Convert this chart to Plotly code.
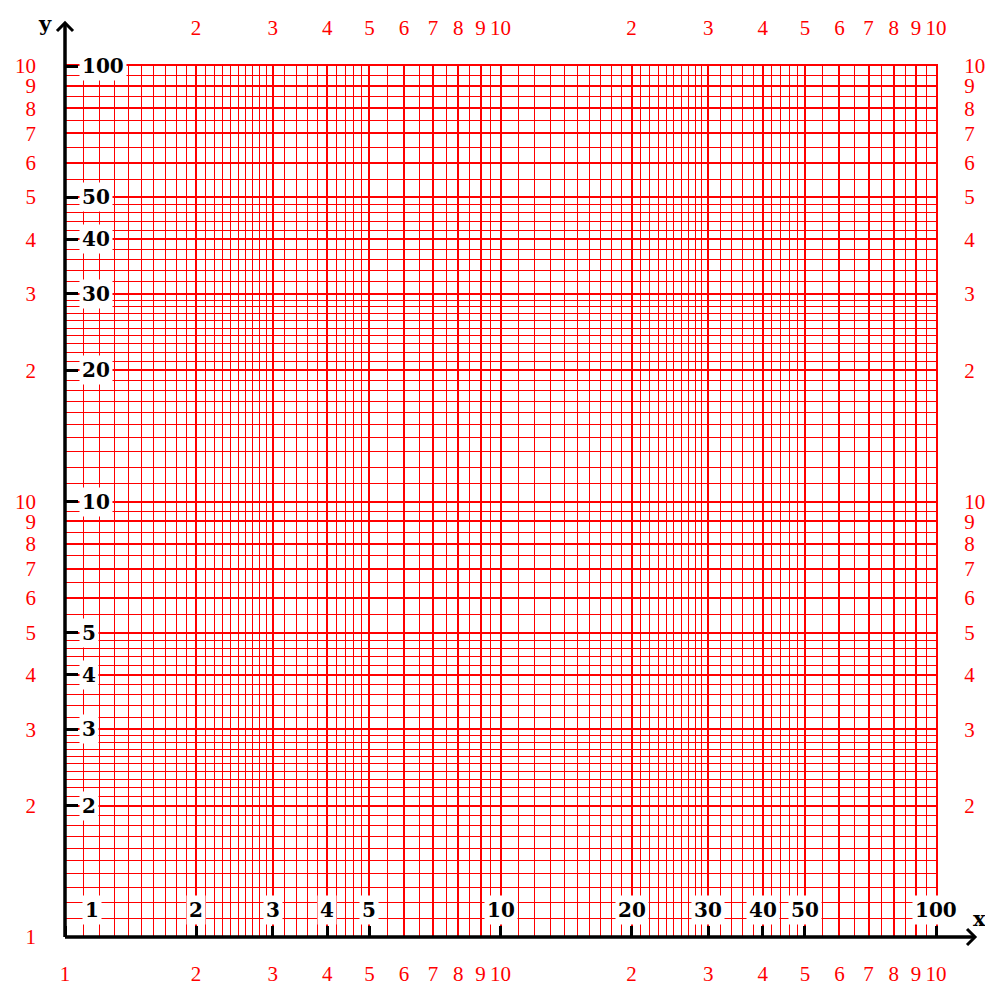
import math
import plotly.graph_objects as go

# ---- axis values (log-log paper, two decades on each axis) ----
decades = [1, 10]
major_mantissas = [1, 2, 3, 4, 5, 6, 7, 8, 9]
minor_mantissas = [1.1, 1.2, 1.3, 1.4, 1.5, 1.6, 1.7, 1.8, 1.9,
                   2.1, 2.2, 2.3, 2.4, 2.5, 2.6, 2.7, 2.8, 2.9,
                   3.2, 3.4, 3.6, 3.8,
                   4.2, 4.4, 4.6, 4.8,
                   5.5, 6.5, 7.5, 8.5, 9.5]
major_vals = [m * d for d in decades for m in major_mantissas] + [100]
minor_vals = [m * d for d in decades for m in minor_mantissas]
red_text = ["1", "2", "3", "4", "5", "6", "7", "8", "9",
            "10", "2", "3", "4", "5", "6", "7", "8", "9", "10"]

# black labelled ticks
black_x_vals = [1, 2, 3, 4, 5, 10, 20, 30, 40, 50, 100]
black_x_text = ["1", "2", "3", "4", "5", "10", "20", "30", "40", "50", "100"]
black_y_vals = [2, 3, 4, 5, 10, 20, 30, 40, 50, 100]
black_y_text = ["2", "3", "4", "5", "10", "20", "30", "40", "50", "100"]

RED = "#ff0000"
red_font = dict(family="Liberation Serif", size=21, color=RED)
black_font = dict(family="DejaVu Serif", size=20, color="black", weight="bold")

fig = go.Figure()
fig.add_trace(go.Scatter(x=[1, 100], y=[1, 100], mode="markers", marker=dict(opacity=0),
                         hoverinfo="skip", showlegend=False))
fig.add_trace(go.Scatter(x=[1, 100], y=[1, 100], mode="markers", marker=dict(opacity=0),
                         hoverinfo="skip", showlegend=False, xaxis="x2", yaxis="y2"))
fig.add_trace(go.Scatter(x=[1, 100], y=[1, 100], mode="markers", marker=dict(opacity=0),
                         hoverinfo="skip", showlegend=False, xaxis="x3", yaxis="y3"))

common = dict(type="log", range=[0, 2], tickmode="array", zeroline=False, fixedrange=True,
              automargin=False)

fig.update_layout(
    width=985, height=978,
    margin=dict(l=57, r=57, t=58, b=49, autoexpand=False),
    paper_bgcolor="white", plot_bgcolor="white",
    showlegend=False,
    xaxis=dict(**common, tickvals=major_vals, ticktext=red_text, ticks="",
               showgrid=True, gridcolor=RED, gridwidth=2,
               minor=dict(tickvals=minor_vals, showgrid=True, gridcolor=RED, gridwidth=1, ticks=""),
               tickfont=red_font, showline=False, ticklabelstandoff=22),
    yaxis=dict(**common, tickvals=major_vals, ticktext=red_text, ticks="",
               showgrid=True, gridcolor=RED, gridwidth=2,
               minor=dict(tickvals=minor_vals, showgrid=True, gridcolor=RED, gridwidth=1, ticks=""),
               tickfont=red_font, showline=False, ticklabelstandoff=28),
    xaxis2=dict(**common, overlaying="x", side="top", anchor="y2",
                tickvals=major_vals[1:], ticktext=red_text[1:], ticks="",
                showgrid=False, showline=True, linecolor=RED, linewidth=2,
                tickfont=red_font, ticklabelstandoff=21),
    yaxis2=dict(**common, overlaying="y", side="right", anchor="x2",
                tickvals=major_vals[1:], ticktext=red_text[1:], ticks="",
                showgrid=False, showline=True, linecolor=RED, linewidth=2,
                tickfont=red_font, ticklabelstandoff=22),
    xaxis3=dict(**common, overlaying="x", side="top", anchor="free", position=0,
                tickvals=black_x_vals, ticks="outside", ticklen=11, tickwidth=3,
                tickcolor="black", showticklabels=False, showgrid=False, showline=False),
    yaxis3=dict(**common, overlaying="y", side="right", anchor="free", position=0,
                tickvals=black_y_vals, ticks="outside", ticklen=12, tickwidth=3,
                tickcolor="black", showticklabels=False, showgrid=False, showline=False),
)

# ---- black axes with open arrow heads (paper coords; plot area is square) ----
a = 0.0092
x_tip = 1.0448
y_tip = 1.0494
shapes = [
    dict(type="line", xref="paper", yref="paper", x0=0, y0=0, x1=x_tip, y1=0,
         line=dict(color="black", width=3.5)),
    dict(type="line", xref="paper", yref="paper", x0=0, y0=0, x1=0, y1=y_tip,
         line=dict(color="black", width=3.5)),
    dict(type="path", xref="paper", yref="paper",
         path=f"M {x_tip - a},{a} L {x_tip},0 L {x_tip - a},{-a}",
         line=dict(color="black", width=3)),
    dict(type="path", xref="paper", yref="paper",
         path=f"M {-a},{y_tip - a} L 0,{y_tip} L {a},{y_tip - a}",
         line=dict(color="black", width=3)),
]
fig.update_layout(shapes=shapes)

annotations = []
for v, t in zip(black_x_vals, black_x_text):
    annotations.append(dict(x=math.log10(v), y=0, xref="x", yref="paper", text=t,
                            showarrow=False, xanchor="center", yanchor="middle",
                            xshift=27 if v == 1 else 0, yshift=27,
                            font=black_font, bgcolor="white", borderpad=2))
for v, t in zip(black_y_vals, black_y_text):
    annotations.append(dict(x=0, y=math.log10(v), xref="paper", yref="y", text=t,
                            showarrow=False, xanchor="left", yanchor="middle", xshift=14,
                            font=black_font, bgcolor="white", borderpad=2))
annotations.append(dict(x=1.0505, y=0.0207, xref="paper", yref="paper", text="x",
                        xanchor="center", yanchor="middle", borderpad=0,
                        showarrow=False, font=dict(family="DejaVu Serif", size=21,
                                                    color="black", weight="bold")))
annotations.append(dict(x=-0.023, y=1.049, xref="paper", yref="paper", text="y",
                        xanchor="center", yanchor="middle", borderpad=0,
                        showarrow=False, font=dict(family="DejaVu Serif", size=21,
                                                    color="black", weight="bold")))
fig.update_layout(annotations=annotations)

fig.write_html("out.html")
